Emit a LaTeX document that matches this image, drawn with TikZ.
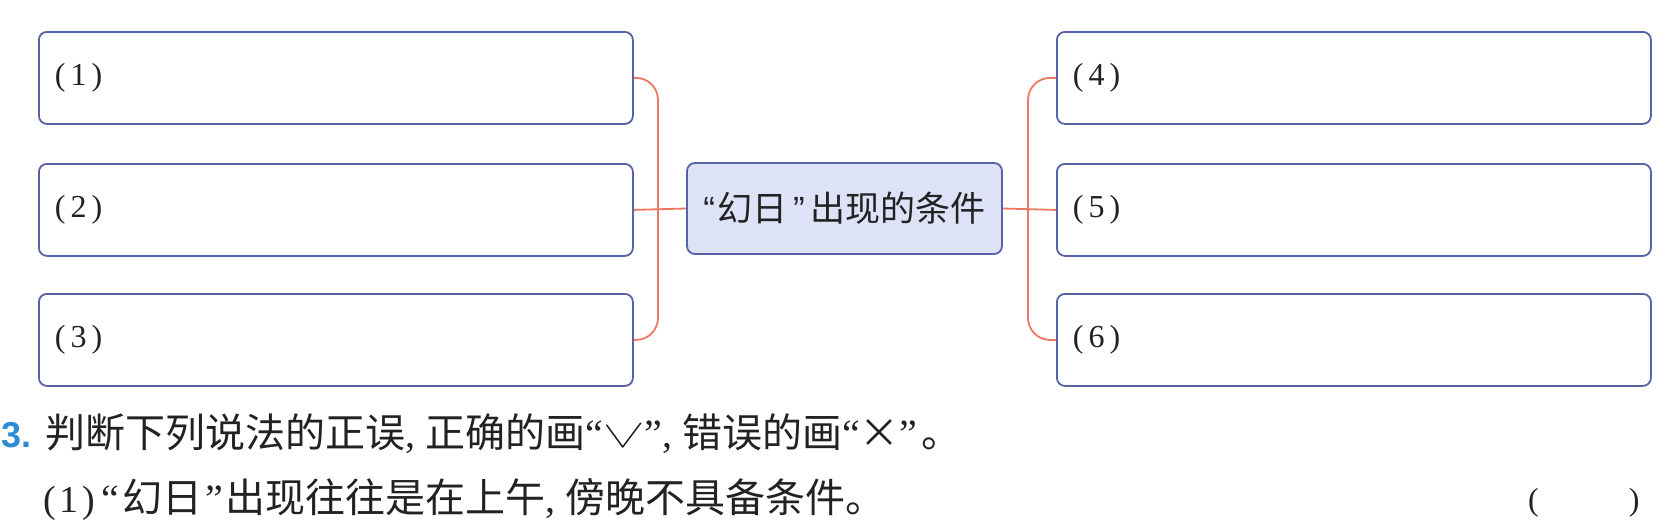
\documentclass[tikz,border=0pt]{standalone}
\usepackage{fontspec}
\setmainfont{Liberation Serif}
\newfontfamily\cjk{Noto Sans CJK SC}
\newfontfamily\numsans{Liberation Sans}
\definecolor{bblue}{RGB}{88,98,168}
\definecolor{cfill}{RGB}{222,226,246}
\definecolor{cred}{RGB}{236,120,100}
\definecolor{nblue}{RGB}{45,140,210}
\definecolor{ink}{RGB}{34,34,34}
\newcommand\myLq{{\rmfamily “}}
\newcommand\myRq{{\rmfamily ”}}
\newcommand\cmx{{\rmfamily ,}\hspace{10pt}}
\newcommand\chkmark{\tikz[x=1pt,y=1pt,baseline=0pt]{\draw[line width=1.5pt, draw=ink, line cap=round, line join=round] (0,22) -- (16,0) -- (34,24);}}
\begin{document}
\begin{tikzpicture}[x=1pt,y=-1pt,
  box/.style={draw=bblue, line width=1.8pt, rounded corners=8pt, fill=white,
    minimum width=594pt, minimum height=92pt, text width=562pt,
    inner xsep=16pt, inner ysep=0pt, align=left, anchor=north west,
    text=ink, font=\fontsize{32}{32}\selectfont},
  hub/.style={draw=bblue, line width=1.8pt, rounded corners=8pt, fill=cfill,
    minimum width=315pt, minimum height=91pt, inner sep=0pt,
    text=ink, font=\cjk\fontsize{35}{35}\selectfont},
  conn/.style={draw=cred, line width=1.8pt, rounded corners=22pt},
  txt/.style={anchor=base west, inner sep=0pt, text=ink}
]
\useasboundingbox (0,0) rectangle (1669,523);

% left boxes
\node[box] (b1) at (38,31)  {\raisebox{-3pt}{(\hspace{5pt}1\hspace{5pt})}};
\node[box] (b2) at (38,163) {\raisebox{-3pt}{(\hspace{5pt}2\hspace{5pt})}};
\node[box] (b3) at (38,293) {\raisebox{-3pt}{(\hspace{5pt}3\hspace{5pt})}};
% right boxes
\node[box] (b4) at (1056,31)  {\raisebox{-3pt}{(\hspace{5pt}4\hspace{5pt})}};
\node[box] (b5) at (1056,163) {\raisebox{-3pt}{(\hspace{5pt}5\hspace{5pt})}};
\node[box] (b6) at (1056,293) {\raisebox{-3pt}{(\hspace{5pt}6\hspace{5pt})}};
% hub
\node[hub] (c) at (844.5,208.5)
  {{\numsans “}\hspace{2pt}幻日\hspace{6pt}{\numsans ”}\hspace{6pt}出现的条件};

\coordinate (lj) at (658,208.5);
\coordinate (rj) at (1028,208.5);

\draw[conn] (b1.east) -| (lj) |- (b3.east);
\draw[conn] (b2.east) -- (c.west);
\draw[conn] (b4.west) -| (rj) |- (b6.west);
\draw[conn] (c.east) -- (b5.west);

% question text
\node[anchor=base west, inner sep=0pt, text=nblue,
  font=\numsans\bfseries\fontsize{36}{36}\selectfont] (qn) at (1,447) {3.};
\node[txt, font=\cjk\fontsize{40}{40}\selectfont] (qt) at (45,447)
  {判断下列说法的正误\cmx 正确的画\myLq\hspace{3pt}\chkmark\hspace{3pt}\myRq\cmx 错误的画\myLq ×\myRq\hspace{4pt}。};
\node[txt, font=\fontsize{38}{38}\selectfont] (q1) at (43,512)
  {(\hspace{4pt}1\hspace{4pt})\hspace{6pt}{\cjk\fontsize{40}{40}\selectfont \myLq\hspace{3pt}幻日\hspace{3pt}\myRq\hspace{2pt}出现往往是在上午\cmx 傍晚不具备条件。}};
\node[txt, font=\fontsize{32}{32}\selectfont] (ans) at (1528,510) {(\hspace{90pt})};
\end{tikzpicture}
\end{document}
